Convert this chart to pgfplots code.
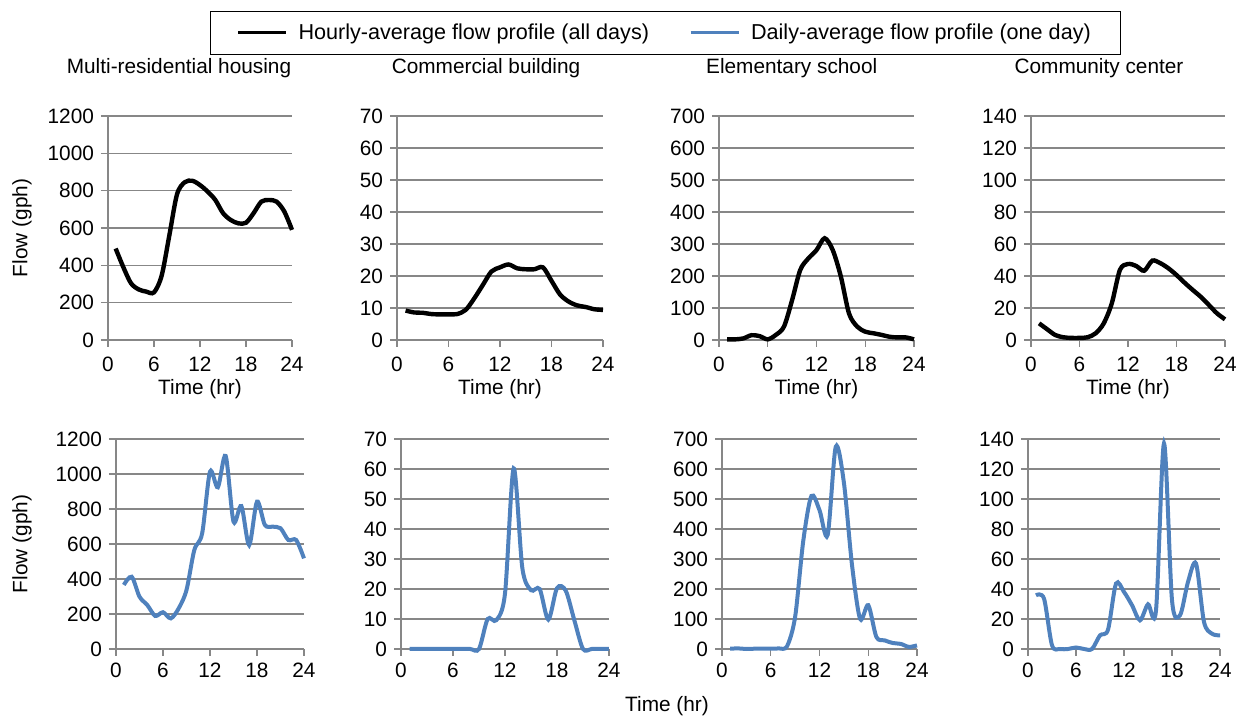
\documentclass[border=0pt]{standalone}
\usepackage{fontspec}
\setmainfont{Liberation Sans}
\usepackage{pgfplots}
\pgfplotsset{compat=1.18}

\definecolor{dayblue}{HTML}{4F81BD}
\definecolor{gridgray}{HTML}{878787}
\newcommand{\fsz}{\fontsize{10.4}{12}\selectfont}

\pgfplotsset{
  panel/.style={
    scale only axis, anchor=south west,
    xmin=0, xmax=24, ymin=0, xtick={0,6,12,18,24},
    axis lines*=left, ymajorgrids,
    axis line style={draw=gridgray, line width=0.6pt},
    major grid style={draw=gridgray, line width=0.6pt},
    tick style={draw=gridgray, line width=0.6pt},
    tick align=outside, major tick length=3.5pt,
    clip=false,
    /pgf/number format/assume math mode=true,
    /pgf/number format/1000 sep={},
    tick label style={font=\fsz},
    label style={font=\fsz},
    title style={font=\fsz, anchor=center, at={(0.5,1)}, yshift=18pt},
  },
  toprow/.style={panel, height=112pt, xlabel={Time (hr)},
    xlabel style={at={(axis description cs:0.5,0)}, anchor=center, yshift=-24.5pt},
    xticklabel style={yshift=-1.5pt}},
  botrow/.style={panel, height=105pt},
  hourly/.style={black, line width=2.2pt, smooth, mark=none},
  daily/.style={dayblue, line width=2pt, smooth, mark=none},
}

\begin{document}
\begin{tikzpicture}
\useasboundingbox (0,0) rectangle (621pt,358.5pt);

% ---- top row: hourly average over all days ----
\begin{axis}[toprow, at={(54pt,188.5pt)}, width=92pt, ymax=1200, ytick={0,200,...,1200},
  title={Multi-residential housing}, title style={xshift=-10.5pt},
  ylabel={Flow (gph)}, ylabel style={at={(axis description cs:-0.467,0.5)}, anchor=center},
  legend columns=2, legend cell align=left,
  legend image code/.code={\draw[#1, line width=1.5pt] (0pt,0pt) -- (24pt,0pt);},
  legend style={at={(axis description cs:0.554,1.469)}, anchor=north west,
    draw=black, line width=0.6pt, font=\fontsize{10.8}{13}\selectfont,
    inner xsep=13pt, inner ysep=4pt,
    /tikz/every odd column/.append style={column sep=3.5pt},
    /tikz/every even column/.append style={column sep=18pt}}]
\addplot[hourly] coordinates {(1,490) (2,390) (3,304) (4,271) (5,259) (6,255) (7,345) (8,560)
  (9,780) (10,845) (11,853) (12,830) (13,795) (14,750) (15,680) (16,643) (17,625) (18,628)
  (19,680) (20,741) (21,750) (22,741) (23,688) (24,590)};
\addlegendentry{Hourly-average flow profile (all days)}
\addlegendimage{daily}
\addlegendentry{Daily-average flow profile (one day)}
\end{axis}

\begin{axis}[toprow, at={(198.5pt,188.5pt)}, width=103pt, ymax=70, ytick={0,10,...,70},
  title={Commercial building}, title style={xshift=-7pt}]
\addplot[hourly] coordinates {(1,9.2) (2,8.6) (3,8.5) (4,8.1) (5,8.0) (6,8.0) (7,8.1) (8,9.4)
  (9,13) (10,17.2) (11,21.4) (12,22.7) (13,23.6) (14,22.4) (15,22.1) (16,22.1) (17,22.7)
  (18,18.5) (19,14.2) (20,12) (21,10.8) (22,10.3) (23,9.6) (24,9.4)};
\end{axis}

\begin{axis}[toprow, at={(359.5pt,188.5pt)}, width=97.5pt, ymax=700, ytick={0,100,...,700},
  title={Elementary school}, title style={xshift=-12.4pt}]
\addplot[hourly] coordinates {(1,2) (2,2) (3,5) (4,15) (5,12) (6,2) (7,16) (8,42) (9,125)
  (10,219) (11,255) (12,281) (13,318) (14,281) (15,198) (16,83) (17,42) (18,26) (19,21)
  (20,16) (21,10) (22,8) (23,8) (24,2)};
\end{axis}

\begin{axis}[toprow, at={(515.5pt,188.5pt)}, width=97pt, ymax=140, ytick={0,20,...,140},
  title={Community center}, title style={xshift=-14.5pt}]
\addplot[hourly] coordinates {(1,10.4) (2,6.7) (3,3.1) (4,1.7) (5,1.3) (6,1.3) (7,1.7) (8,4.2)
  (9,10.4) (10,23) (11,43.8) (12,47.5) (13,46.3) (14,43.3) (15,49.6) (16,48) (17,44.8)
  (18,40.6) (19,35.8) (20,31.3) (21,27) (22,21.9) (23,16.7) (24,12.9)};
\end{axis}

% ---- bottom row: one day ----
\begin{axis}[botrow, at={(58pt,34pt)}, width=94pt, ymax=1200, ytick={0,200,...,1200},
  ylabel={Flow (gph)}, ylabel style={at={(axis description cs:-0.5,0.5)}, anchor=center}]
\addplot[daily] coordinates {(1,366) (2,413) (3,299) (4,251) (5,189) (6,210) (7,175) (8,232)
  (9,337) (10,566) (11,661) (12,1013) (13,924) (14,1103) (15,728) (16,817) (17,594) (18,842)
  (19,709) (20,699) (21,690) (22,623) (23,623) (24,518)};
\end{axis}

\begin{axis}[botrow, at={(200.5pt,34pt)}, width=104pt, ymax=70, ytick={0,10,...,70}]
\addplot[daily] coordinates {(1,0) (2,0) (3,0) (4,0) (5,0) (6,0) (7,0) (8,0) (9,0) (10,10)
  (11,9.6) (12,18.5) (13,60.2) (14,27) (15,19.6) (16,20) (17,9.8) (18,20.3) (19,19.5)
  (20,9.6) (21,0) (22,0) (23,0) (24,0)};
\end{axis}

\begin{axis}[botrow, at={(361pt,34pt)}, width=97.5pt, ymax=700, ytick={0,100,...,700}]
\addplot[daily] coordinates {(1,1) (2,2) (3,0) (4,1) (5,1) (6,1) (7,2) (8,9) (9,107) (10,360)
  (11,510) (12,463) (13,380) (14,674) (15,555) (16,280) (17,100) (18,146) (19,40) (20,29)
  (21,20) (22,17) (23,7) (24,12)};
\end{axis}

\begin{axis}[botrow, at={(514pt,34pt)}, width=96pt, ymax=140, ytick={0,20,...,140}]
\addplot[daily] coordinates {(1,35.8) (2,33.6) (3,2.5) (4,0) (5,0) (6,1) (7,0) (8,0) (9,9.1)
  (10,12.9) (11,43.6) (12,38) (13,29.2) (14,19.1) (15,29.8) (16,25.8) (17,137) (18,32.5)
  (19,22.5) (20,44.7) (21,57) (22,18) (23,10.2) (24,9.1)};
\end{axis}

\node[font=\fsz] at (333.5pt,5.5pt) {Time (hr)};
\end{tikzpicture}
\end{document}
